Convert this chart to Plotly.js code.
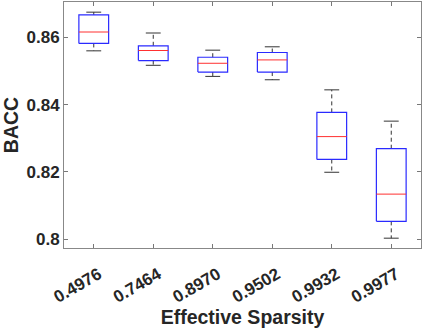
<!DOCTYPE html>
<html>
<head>
<meta charset="utf-8">
<script src="https://cdn.plot.ly/plotly-3.0.1.min.js"></script>
<style>
html,body{margin:0;padding:0;background:#fff;}
#chart{width:423px;height:328px;}
</style>
</head>
<body>
<div id="chart"></div>
<script>
const categories = ['0.4976','0.7464','0.8970','0.9502','0.9932','0.9977'];
const upperWhisker = [0.8675, 0.8613, 0.8562, 0.8572, 0.8444, 0.8351];
const q3Values     = [0.8667, 0.8575, 0.8541, 0.8555, 0.8377, 0.8269];
const medianValues = [0.8616, 0.8561, 0.8523, 0.8533, 0.8305, 0.8134];
const q1Values     = [0.8582, 0.8531, 0.8497, 0.8497, 0.8237, 0.8053];
const lowerWhisker = [0.8560, 0.8517, 0.8484, 0.8474, 0.8199, 0.8003];
const yTickVals = [0.8, 0.82, 0.84, 0.86];
const yTickText = ['0.8', '0.82', '0.84', '0.86'];

const xPos = categories.map((c, i) => i + 1);
const boxHalf = 0.25, capHalf = 0.125;

const wx = [], wy = [];
const cx = [], cy = [];
const bx = [], by = [];
const mx = [], my = [];
xPos.forEach((x, i) => {
  wx.push(x, x, null, x, x, null);
  wy.push(q3Values[i], upperWhisker[i], null, q1Values[i], lowerWhisker[i], null);
  cx.push(x - capHalf, x + capHalf, null, x - capHalf, x + capHalf, null);
  cy.push(upperWhisker[i], upperWhisker[i], null, lowerWhisker[i], lowerWhisker[i], null);
  bx.push(x - boxHalf, x + boxHalf, x + boxHalf, x - boxHalf, x - boxHalf, null);
  by.push(q1Values[i], q1Values[i], q3Values[i], q3Values[i], q1Values[i], null);
  mx.push(x - boxHalf, x + boxHalf, null);
  my.push(medianValues[i], medianValues[i], null);
});

const traces = [
  {
    type: 'scatter', mode: 'lines', x: wx, y: wy,
    line: {color: '#333333', width: 1, dash: '4px,3px'},
    hoverinfo: 'skip', showlegend: false
  },
  {
    type: 'scatter', mode: 'lines', x: cx, y: cy,
    line: {color: '#333333', width: 1},
    hoverinfo: 'skip', showlegend: false
  },
  {
    type: 'scatter', mode: 'lines', x: bx, y: by,
    line: {color: '#2a2aff', width: 1.2},
    hoverinfo: 'skip', showlegend: false
  },
  {
    type: 'scatter', mode: 'lines', x: mx, y: my,
    line: {color: '#FF3030', width: 1},
    hoverinfo: 'skip', showlegend: false
  }
];

const fontFam = '"Liberation Sans", Arial, Helvetica, sans-serif';
const layout = {
  width: 423, height: 328,
  margin: {l: 64, r: 2, t: 2, b: 80},
  paper_bgcolor: '#fff', plot_bgcolor: '#fff',
  showlegend: false,
  xaxis: {
    range: [0.5, 6.5],
    tickvals: xPos, ticktext: categories,
    tickangle: -30,
    ticklabelshift: 5, ticklabelstandoff: 9,
    ticks: 'inside', ticklen: 4, tickcolor: '#777',
    showline: true, linecolor: '#888', linewidth: 1, mirror: 'ticks',
    showgrid: false, zeroline: false,
    tickfont: {family: fontFam, size: 17, color: '#262626', weight: 'bold'},
    title: {text: 'Effective Sparsity', font: {family: fontFam, size: 19.5, color: '#262626', weight: 'bold'}, standoff: 2}
  },
  yaxis: {
    range: [0.79738, 0.87052],
    tickvals: yTickVals, ticktext: yTickText,
    ticks: 'inside', ticklen: 4, tickcolor: '#777',
    showline: true, linecolor: '#888', linewidth: 1, mirror: 'ticks',
    showgrid: false, zeroline: false,
    tickfont: {family: fontFam, size: 17, color: '#262626', weight: 'bold'},
    title: {text: 'BACC', font: {family: fontFam, size: 19.5, color: '#262626', weight: 'bold'}, standoff: 5}
  }
};

Plotly.newPlot('chart', traces, layout, {staticPlot: true, displayModeBar: false});
</script>
</body>
</html>
